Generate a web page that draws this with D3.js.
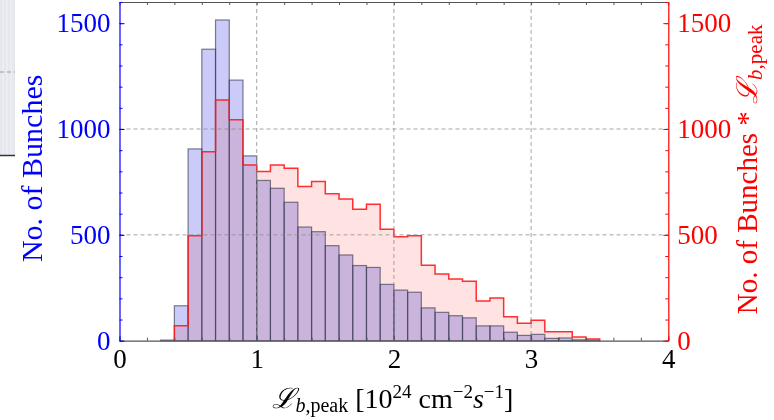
<!DOCTYPE html>
<html>
<head>
<meta charset="utf-8">
<script src="https://cdn.jsdelivr.net/npm/d3@7"></script>
<style>
  body { margin: 0; background: #fff; }
  svg { display: block; }
  text { font-family: "Liberation Serif", "DejaVu Serif", serif; }
</style>
</head>
<body>
<div id="chart"></div>
<script>
// bin starts (width 0.1)
var binStart = [0.3, 0.4, 0.5, 0.6, 0.7, 0.8, 0.9, 1.0, 1.1, 1.2, 1.3, 1.4, 1.5, 1.6, 1.7, 1.8,
                1.9, 2.0, 2.1, 2.2, 2.3, 2.4, 2.5, 2.6, 2.7, 2.8, 2.9, 3.0, 3.1, 3.2, 3.3, 3.4];
var binWidth = 0.1;
// No. of Bunches (left axis)
var bunches = [3, 165, 906, 1377, 1515, 1231, 873, 757, 720, 654, 537, 515, 449, 405, 355, 346,
               266, 239, 229, 155, 134, 118, 108, 70, 70, 40, 25, 30, 11, 13, 4, 2];
// No. of Bunches * L (right axis)
var weighted = [0, 71, 496, 893, 1137, 1044, 830, 799, 830, 815, 728, 752, 694, 669, 621, 644,
                527, 491, 496, 356, 315, 292, 281, 187, 202, 113, 82, 97, 42, 42, 17, 8];
var xTicks = [0, 1, 2, 3, 4];
var yTicks = [0, 500, 1000, 1500];

var W = 774, H = 420;
var x0 = 119.5, x1 = 668.3, yTop = 2, yBot = 340.7;

var svg = d3.select("#chart").append("svg")
  .attr("width", W).attr("height", H);

// bit of neighbouring figure at the far left
svg.append("rect").attr("x", 0).attr("y", 0).attr("width", 15).attr("height", 155)
  .attr("fill", "#e6e6ef");
[3, 7, 11].forEach(function(sx) {
  svg.append("line").attr("x1", sx).attr("x2", sx).attr("y1", 0).attr("y2", 155)
    .attr("stroke", "#f2f2f7").attr("stroke-width", 1);
});
svg.append("line").attr("x1", 0).attr("x2", 15).attr("y1", 72).attr("y2", 72)
  .attr("stroke", "#999").attr("stroke-dasharray", "4,3");
svg.append("line").attr("x1", 0).attr("x2", 15).attr("y1", 155.5).attr("y2", 155.5)
  .attr("stroke", "#333").attr("stroke-width", 1.5);

var x = d3.scaleLinear().domain([0, 4]).range([x0, x1]);
var y = d3.scaleLinear().domain([0, 1600]).range([yBot, yTop]);
var y2 = d3.scaleLinear().domain([0, 1600]).range([yBot, yTop]);

var bins = binStart.map(function(s, i) {
  return {x0: s, x1: s + binWidth, b: bunches[i], w: weighted[i]};
});

// blue bars
svg.append("g").selectAll("rect")
  .data(bins.filter(function(d) { return d.b > 0; }))
  .enter().append("rect")
    .attr("x", function(d) { return x(d.x0); })
    .attr("width", function(d) { return x(d.x1) - x(d.x0); })
    .attr("y", function(d) { return y(d.b); })
    .attr("height", function(d) { return yBot - y(d.b); })
    .attr("fill", "#cbcbf9");

// red step area, multiplied over the bars
var stepPts = [];
bins.forEach(function(d) {
  stepPts.push([x(d.x0), y2(d.w)]);
  stepPts.push([x(d.x1), y2(d.w)]);
});
var first = bins.find(function(d) { return d.w > 0; });
var last = bins[bins.length - 1];
var ptsOn = stepPts.filter(function(p) { return p[0] >= x(first.x0) - 0.01; });
var area = [[x(first.x0), yBot]].concat(ptsOn).concat([[x(last.x1), yBot]]);

svg.append("path")
  .attr("d", d3.line()(area) + "Z")
  .attr("fill", "#ffe2e2")
  .style("mix-blend-mode", "multiply");

// bar outlines
svg.append("g").selectAll("rect")
  .data(bins.filter(function(d) { return d.b > 0; }))
  .enter().append("rect")
    .attr("x", function(d) { return x(d.x0); })
    .attr("width", function(d) { return x(d.x1) - x(d.x0); })
    .attr("y", function(d) { return y(d.b); })
    .attr("height", function(d) { return yBot - y(d.b); })
    .attr("fill", "none")
    .attr("stroke", "#3a3a55")
    .attr("stroke-opacity", 0.65)
    .attr("stroke-width", 1.2);

// red step line
svg.append("path")
  .attr("d", d3.line()(area))
  .attr("fill", "none")
  .attr("stroke", "#ff1a1a")
  .attr("stroke-width", 1.5)
  .attr("stroke-opacity", 0.9);

// dashed grid
svg.append("g").selectAll("line")
  .data([1, 2, 3]).enter().append("line")
    .attr("x1", function(d) { return x(d); }).attr("x2", function(d) { return x(d); })
    .attr("y1", yTop).attr("y2", yBot)
    .attr("stroke", "#888").attr("stroke-opacity", 0.75)
    .attr("stroke-dasharray", "4,3");
svg.append("g").selectAll("line")
  .data([500, 1000]).enter().append("line")
    .attr("x1", x0).attr("x2", x1)
    .attr("y1", function(d) { return y(d); }).attr("y2", function(d) { return y(d); })
    .attr("stroke", "#888").attr("stroke-opacity", 0.75)
    .attr("stroke-dasharray", "4,3");

// axes
function styleAxis(g, color) {
  g.select(".domain").attr("stroke", color).attr("stroke-width", 1.2);
  g.selectAll(".tick line").attr("stroke", color);
  g.selectAll(".tick text").attr("fill", color)
    .style("font-family", "'Liberation Serif', serif").style("font-size", "27px");
}

var minorX = d3.range(0, 4.01, 0.2);
var minorY = d3.range(0, 1601, 100);

// bottom
var gB = svg.append("g").attr("transform", "translate(0," + yBot + ")");
gB.call(d3.axisBottom(x).tickValues(minorX).tickSize(-3).tickSizeOuter(0).tickFormat(""));
gB.select(".domain").attr("stroke", "#555").attr("stroke-width", 1.2);
gB.selectAll(".tick line").attr("stroke", "#555");
var gB2 = svg.append("g").attr("transform", "translate(0," + yBot + ")");
gB2.call(d3.axisBottom(x).tickValues(xTicks).tickSize(-5).tickPadding(12).tickFormat(d3.format("d")));
gB2.select(".domain").remove();
gB2.selectAll(".tick line").attr("stroke", "#555");
gB2.selectAll(".tick text").attr("fill", "#000").attr("dy", "0.55em")
  .style("font-family", "'Liberation Serif', serif").style("font-size", "27px");

// top
var gT = svg.append("g").attr("transform", "translate(0," + yTop + ")");
gT.call(d3.axisTop(x).tickValues(minorX).tickSize(-3).tickSizeOuter(0).tickFormat(""));
gT.select(".domain").attr("stroke", "#555").attr("stroke-width", 1.2);
gT.selectAll(".tick line").attr("stroke", "#555");

// left
var gL = svg.append("g").attr("transform", "translate(" + x0 + ",0)");
gL.call(d3.axisLeft(y).tickValues(minorY).tickSize(-3).tickSizeOuter(0).tickFormat(""));
styleAxis(gL, "#0000ff");
var gL2 = svg.append("g").attr("transform", "translate(" + x0 + ",0)");
gL2.call(d3.axisLeft(y).tickValues(yTicks).tickSize(-5).tickPadding(9).tickFormat(d3.format("d")));
gL2.select(".domain").remove();
styleAxis(gL2, "#0000ff");

// right
var gR = svg.append("g").attr("transform", "translate(" + x1 + ",0)");
gR.call(d3.axisRight(y2).tickValues(minorY).tickSize(-3).tickSizeOuter(0).tickFormat(""));
styleAxis(gR, "#ff0000");
var gR2 = svg.append("g").attr("transform", "translate(" + x1 + ",0)");
gR2.call(d3.axisRight(y2).tickValues(yTicks).tickSize(-5).tickPadding(9).tickFormat(d3.format("d")));
gR2.select(".domain").remove();
styleAxis(gR2, "#ff0000");

// axis titles
svg.append("text")
  .attr("transform", "translate(42," + ((yTop + yBot) / 2 - 3) + ") rotate(-90)")
  .attr("text-anchor", "middle")
  .attr("fill", "#0000ff")
  .style("font-size", "30px")
  .text("No. of Bunches");

var xl = svg.append("text")
  .attr("x", (x0 + x1) / 2 - 1).attr("y", 408)
  .attr("text-anchor", "middle")
  .attr("fill", "#000")
  .style("font-size", "28px");
xl.append("tspan").style("font-style", "italic").text("\u2112");
xl.append("tspan").attr("dy", 4).style("font-size", "20px").style("font-style", "italic").text("b");
xl.append("tspan").style("font-size", "20px").text(",peak");
xl.append("tspan").attr("dy", -4).text(" [10");
xl.append("tspan").attr("dy", -10).style("font-size", "19px").text("24");
xl.append("tspan").attr("dy", 10).text(" cm");
xl.append("tspan").attr("dy", -10).style("font-size", "19px").text("\u22122");
xl.append("tspan").attr("dy", 10).style("font-style", "italic").text("s");
xl.append("tspan").attr("dy", -10).style("font-size", "19px").text("\u22121");
xl.append("tspan").attr("dy", 10).text("]");

var yr = svg.append("text")
  .attr("transform", "translate(757," + ((yTop + yBot) / 2 - 2) + ") rotate(-90)")
  .attr("text-anchor", "middle")
  .attr("fill", "#ff0000")
  .style("font-size", "29px");
yr.append("tspan").text("No. of Bunches * ");
yr.append("tspan").style("font-style", "italic").text("\u2112");
yr.append("tspan").attr("dy", 5).style("font-size", "21px").style("font-style", "italic").text("b");
yr.append("tspan").style("font-size", "21px").text(",peak");
</script>
</body>
</html>
